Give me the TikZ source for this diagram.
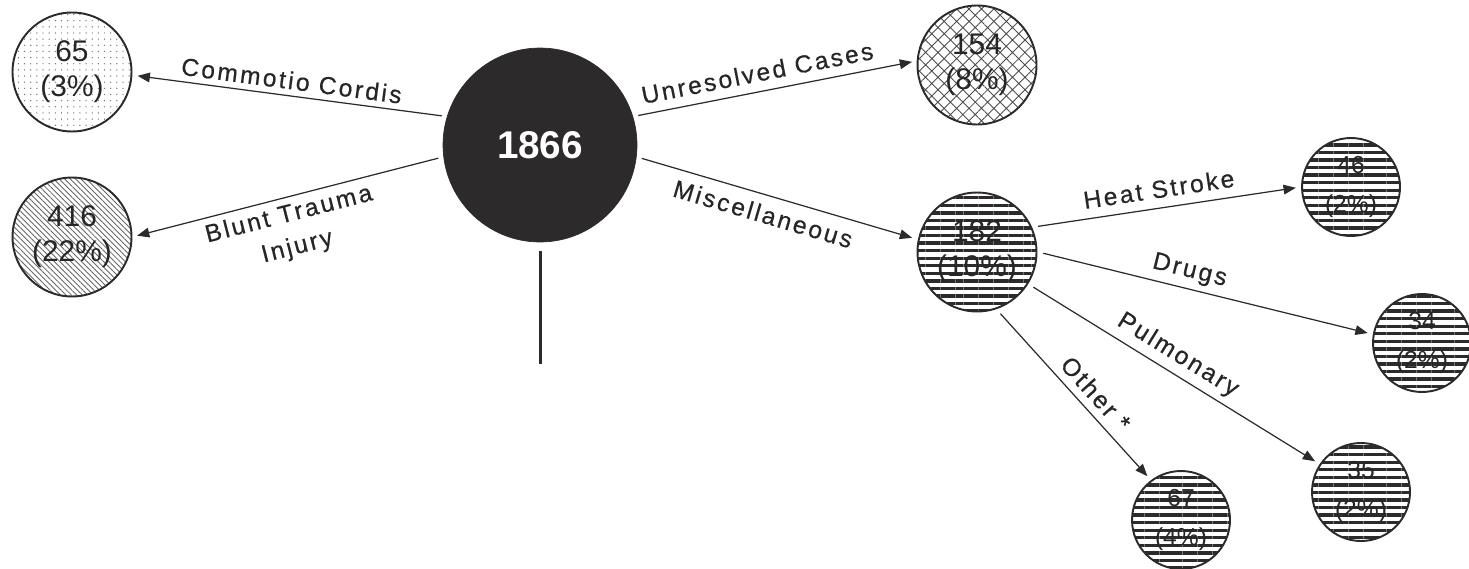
\documentclass[tikz,border=0pt]{standalone}
\usepackage{fontspec}
\setmainfont{Liberation Sans}
\newfontfamily\spacedfont[LetterSpace=10, FakeBold=0.5]{Liberation Sans}
\usetikzlibrary{arrows.meta, patterns.meta, calc}
\definecolor{inkgray}{RGB}{45,42,43}

\begin{document}
\begin{tikzpicture}[x=0.02cm, y=-0.02cm,
  >={Triangle[length=7pt,width=5.5pt]},
  total/.style={circle, fill=inkgray, draw=inkgray, minimum size=3.88cm, inner sep=0pt,
    text=white, font=\fontsize{22}{26}\selectfont\bfseries},
  major/.style={circle, draw=inkgray, line width=1.1pt, minimum size=2.38cm, inner sep=0pt,
    align=center, text=black!85, font=\fontsize{17}{20}\selectfont},
  minor/.style={major, minimum size=1.96cm, font=\fontsize{14}{22}\selectfont,
    pattern={Lines[distance=4.3pt, line width=1.9pt]}, pattern color=inkgray},
  link/.style={draw=inkgray, line width=0.7pt, shorten >=3pt, shorten <=3pt},
  cause/.style={sloped, align=center, text=black!85, font=\spacedfont\fontsize{14}{19}\selectfont}
]
\useasboundingbox (0,0) rectangle (1469,568);
% All cases in the middle
\node[total] (n1866) at (540,145) {1866};
% First split
\node[major, pattern={Dots[distance=3.5pt, radius=0.4pt]}, pattern color=black!55]
  (n65) at (72,72) {65\\(3\%)};
\node[major, pattern={Lines[angle=-45, distance=2.2pt, line width=0.5pt]}, pattern color=black!60]
  (n416) at (72,237) {416\\(22\%)};
\node[major, pattern={Hatch[angle=45, distance=5pt, line width=0.5pt]}, pattern color=black!70]
  (n154) at (977,65) {154\\(8\%)};
\node[major, pattern={Lines[distance=4.3pt, line width=1.9pt]}, pattern color=inkgray]
  (n182) at (977,252) {182\\(10\%)};
% Miscellaneous split again
\node[minor] (n46) at (1351,187) {46\\(2\%)};
\node[minor] (n34) at (1422,343) {34\\(2\%)};
\node[minor] (n35) at (1361,492) {35\\(2\%)};
\node[minor] (n67) at (1181,520) {67\\(4\%)};
% Arrows out of the middle
\draw[link,<-] (n65.-3) -- node[cause,above,pos=.5] {Commotio Cordis} (n1866.163);
\draw[link,<-] (n416.0) -- node[cause,below,pos=.49] {Blunt Trauma\\Injury} (n1866.187);
\draw[link,->] (n1866.17) -- node[cause,above=2pt,pos=.45] {Unresolved Cases} (n154.176);
\draw[link,->] (n1866.-7) -- node[cause,below=2pt,pos=.47] {Miscellaneous} (n182.168);
% Arrows out of miscellaneous
\draw[link,->] (n182.24) -- node[cause,above=2pt,pos=.48] {Heat Stroke} (n46.180);
\draw[link,->] (n182.0) -- node[cause,above,pos=.44] {Drugs} (n34.170);
\draw[link,->] (n182.-32) -- node[cause,above,pos=.48] {Pulmonary} (n35.146);
\draw[link,->] (n182.-71) -- node[cause,above=1pt,pos=.56] {Other *} (n67.127);
% Stub below the middle circle
\coordinate (stubtop) at ($(n1866.south)+(0,9)$);
\coordinate (stubend) at ($(stubtop)+(0,113)$);
\draw[draw=inkgray, line width=1.7pt] (stubtop) -- (stubend);
\end{tikzpicture}
\end{document}
